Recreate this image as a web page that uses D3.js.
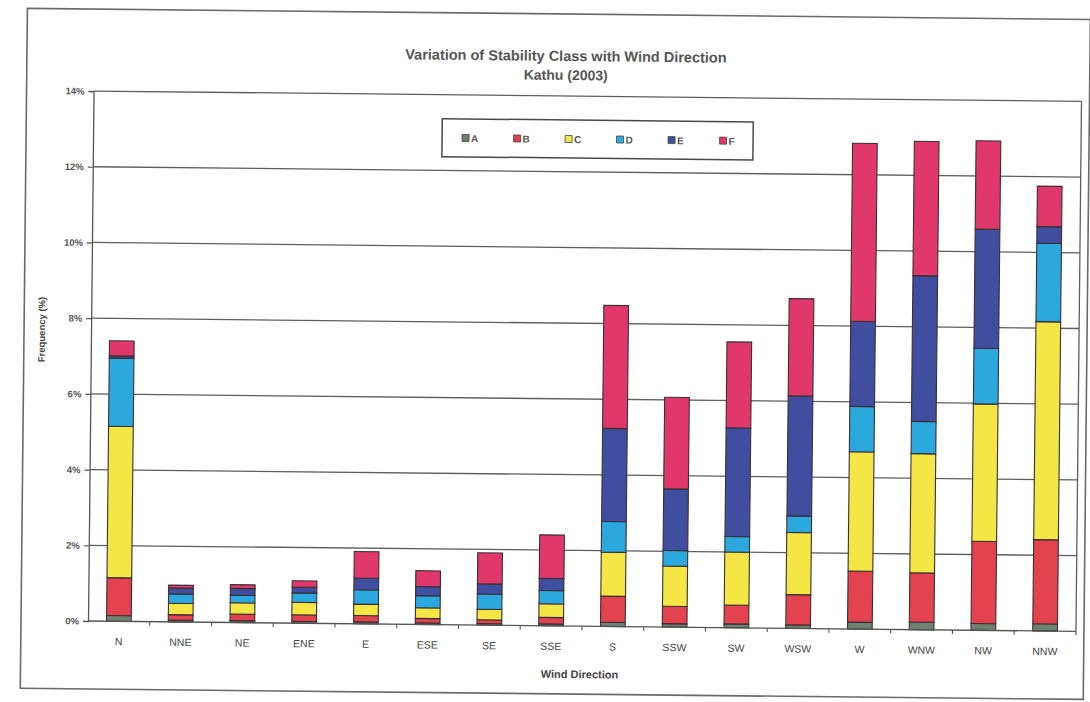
<!DOCTYPE html>
<html>
<head>
<meta charset="utf-8">
<script src="https://cdn.jsdelivr.net/npm/d3@7"></script>
<style>
  html, body { margin: 0; padding: 0; background: #fff; }
  svg { display: block; font-family: "Liberation Sans", Arial, sans-serif; }
</style>
</head>
<body>
<svg id="chart" width="1090" height="702"></svg>
<script>
// Wind direction sectors
const categories = ["N","NNE","NE","ENE","E","ESE","SE","SSE","S","SSW","SW","WSW","W","WNW","NW","NNW"];

// Frequency (%) of each stability class per sector
const classA = [0.15,0.05,0.05,0.05,0.05,0.04,0.04,0.05,0.11,0.09,0.10,0.09,0.18,0.20,0.18,0.19];
const classB = [1.00,0.14,0.17,0.17,0.17,0.12,0.10,0.17,0.69,0.46,0.50,0.80,1.35,1.30,2.17,2.22];
const classC = [4.00,0.30,0.30,0.33,0.30,0.28,0.28,0.36,1.16,1.06,1.40,1.64,3.15,3.15,3.63,5.76];
const classD = [1.80,0.25,0.20,0.25,0.38,0.32,0.40,0.35,0.81,0.41,0.41,0.44,1.20,0.85,1.47,2.07];
const classE = [0.06,0.15,0.18,0.15,0.31,0.24,0.27,0.32,2.46,1.63,2.87,3.17,2.25,3.85,3.15,0.44];
const classF = [0.40,0.08,0.10,0.17,0.70,0.42,0.82,1.15,3.25,2.42,2.27,2.57,4.70,3.55,2.33,1.07];

const seriesNames = ["A","B","C","D","E","F"];
const yTicks = [0,2,4,6,8,10,12,14];

const seriesValues = [classA, classB, classC, classD, classE, classF];
const colors = {A:"#6f8272", B:"#e3424f", C:"#f3e645", D:"#2ba9df", E:"#3f4e9e", F:"#e1386b"};

const rows = categories.map((c, i) => {
  const r = {dir: c};
  seriesNames.forEach((s, k) => r[s] = seriesValues[k][i]);
  return r;
});
const stacked = d3.stack().keys(seriesNames)(rows);

const svg = d3.select("#chart");
svg.append("rect").attr("width", 1090).attr("height", 702).attr("fill", "#fff");

// The whole sheet sits at a slight tilt
const root = svg.append("g").attr("transform", "rotate(0.6 88 621)");

// Chart border
root.append("rect")
  .attr("x", 21).attr("y", 9).attr("width", 1063).attr("height", 680)
  .attr("fill", "none").attr("stroke", "#6a6a6a").attr("stroke-width", 1.6);

const plotLeft = 88, plotRight = 1076, plotTop = 91, plotBottom = 621;
const x = d3.scaleBand().domain(categories).range([plotLeft, plotRight]).paddingInner(0.6).paddingOuter(0.3);
const y = d3.scaleLinear().domain([0, 14]).range([plotBottom, plotTop]);

// Gridlines
root.append("g").selectAll("line")
  .data(yTicks.filter(d => d > 0))
  .join("line")
  .attr("x1", plotLeft).attr("x2", plotRight)
  .attr("y1", d => y(d)).attr("y2", d => y(d))
  .attr("stroke", "#5e5e5e").attr("stroke-width", 1.3);

// Right edge of the plot area
root.append("line")
  .attr("x1", plotRight).attr("x2", plotRight).attr("y1", plotTop).attr("y2", plotBottom)
  .attr("stroke", "#5e5e5e").attr("stroke-width", 1.3);

// Stacked bars
root.append("g").selectAll("g")
  .data(stacked)
  .join("g")
  .attr("fill", d => colors[d.key])
  .selectAll("rect")
  .data(d => d)
  .join("rect")
  .attr("x", d => x(d.data.dir))
  .attr("width", x.bandwidth())
  .attr("y", d => y(d[1]))
  .attr("height", d => y(d[0]) - y(d[1]))
  .attr("stroke", "#3a2f33").attr("stroke-width", 1.1);

// Y axis
const yAxis = root.append("g")
  .attr("transform", `translate(${plotLeft},0)`)
  .call(d3.axisLeft(y).tickValues(yTicks).tickFormat(d => d + "%").tickSize(5).tickPadding(4));
yAxis.select(".domain").attr("stroke", "#555").attr("stroke-width", 1.3);
yAxis.selectAll(".tick line").attr("stroke", "#555").attr("stroke-width", 1.2);
yAxis.selectAll(".tick text").attr("font-size", 9.5).attr("font-weight", "bold").attr("fill", "#555");

// X axis line and tick marks between sectors
root.append("line")
  .attr("x1", plotLeft).attr("x2", plotRight).attr("y1", plotBottom).attr("y2", plotBottom)
  .attr("stroke", "#555").attr("stroke-width", 1.3);
root.append("g").selectAll("line")
  .data(categories)
  .join("line")
  .attr("x1", d => x(d) + x.bandwidth() / 2 + x.step() / 2)
  .attr("x2", d => x(d) + x.bandwidth() / 2 + x.step() / 2)
  .attr("y1", plotBottom).attr("y2", plotBottom + 4)
  .attr("stroke", "#555").attr("stroke-width", 1.1);
root.append("g").selectAll("text")
  .data(categories)
  .join("text")
  .attr("x", d => x(d) + x.bandwidth() / 2)
  .attr("y", 645)
  .attr("text-anchor", "middle")
  .attr("font-size", 10.5).attr("fill", "#444")
  .text(d => d);

// Axis titles
root.append("text")
  .attr("x", 580).attr("y", 673).attr("text-anchor", "middle")
  .attr("font-size", 11).attr("font-weight", "bold").attr("fill", "#444")
  .text("Wind Direction");
root.append("text")
  .attr("transform", "translate(42,330) rotate(-90)")
  .attr("text-anchor", "middle")
  .attr("font-size", 9.5).attr("font-weight", "bold").attr("fill", "#444")
  .text("Frequency (%)");

// Title
root.append("text")
  .attr("x", 560).attr("y", 56).attr("text-anchor", "middle")
  .attr("font-size", 14.5).attr("font-weight", "bold").attr("fill", "#555")
  .text("Variation of Stability Class with Wind Direction");
root.append("text")
  .attr("x", 560).attr("y", 75).attr("text-anchor", "middle")
  .attr("font-size", 14).attr("font-weight", "bold").attr("fill", "#555")
  .text("Kathu (2003)");

// Legend
const legend = root.append("g");
legend.append("rect")
  .attr("x", 437).attr("y", 115).attr("width", 311).attr("height", 38)
  .attr("fill", "#fff").attr("stroke", "#4a4a4a").attr("stroke-width", 1.5);
const item = legend.selectAll("g.item")
  .data(seriesNames)
  .join("g").attr("class", "item")
  .attr("transform", (d, i) => `translate(${457 + i * 51.5},134)`);
item.append("rect")
  .attr("x", 0).attr("y", -3.5).attr("width", 7).attr("height", 7)
  .attr("fill", d => colors[d]).attr("stroke", "#444").attr("stroke-width", 0.8);
item.append("text")
  .attr("x", 9).attr("y", 4)
  .attr("font-size", 10).attr("font-weight", "bold").attr("fill", "#555")
  .text(d => d);
</script>
</body>
</html>
